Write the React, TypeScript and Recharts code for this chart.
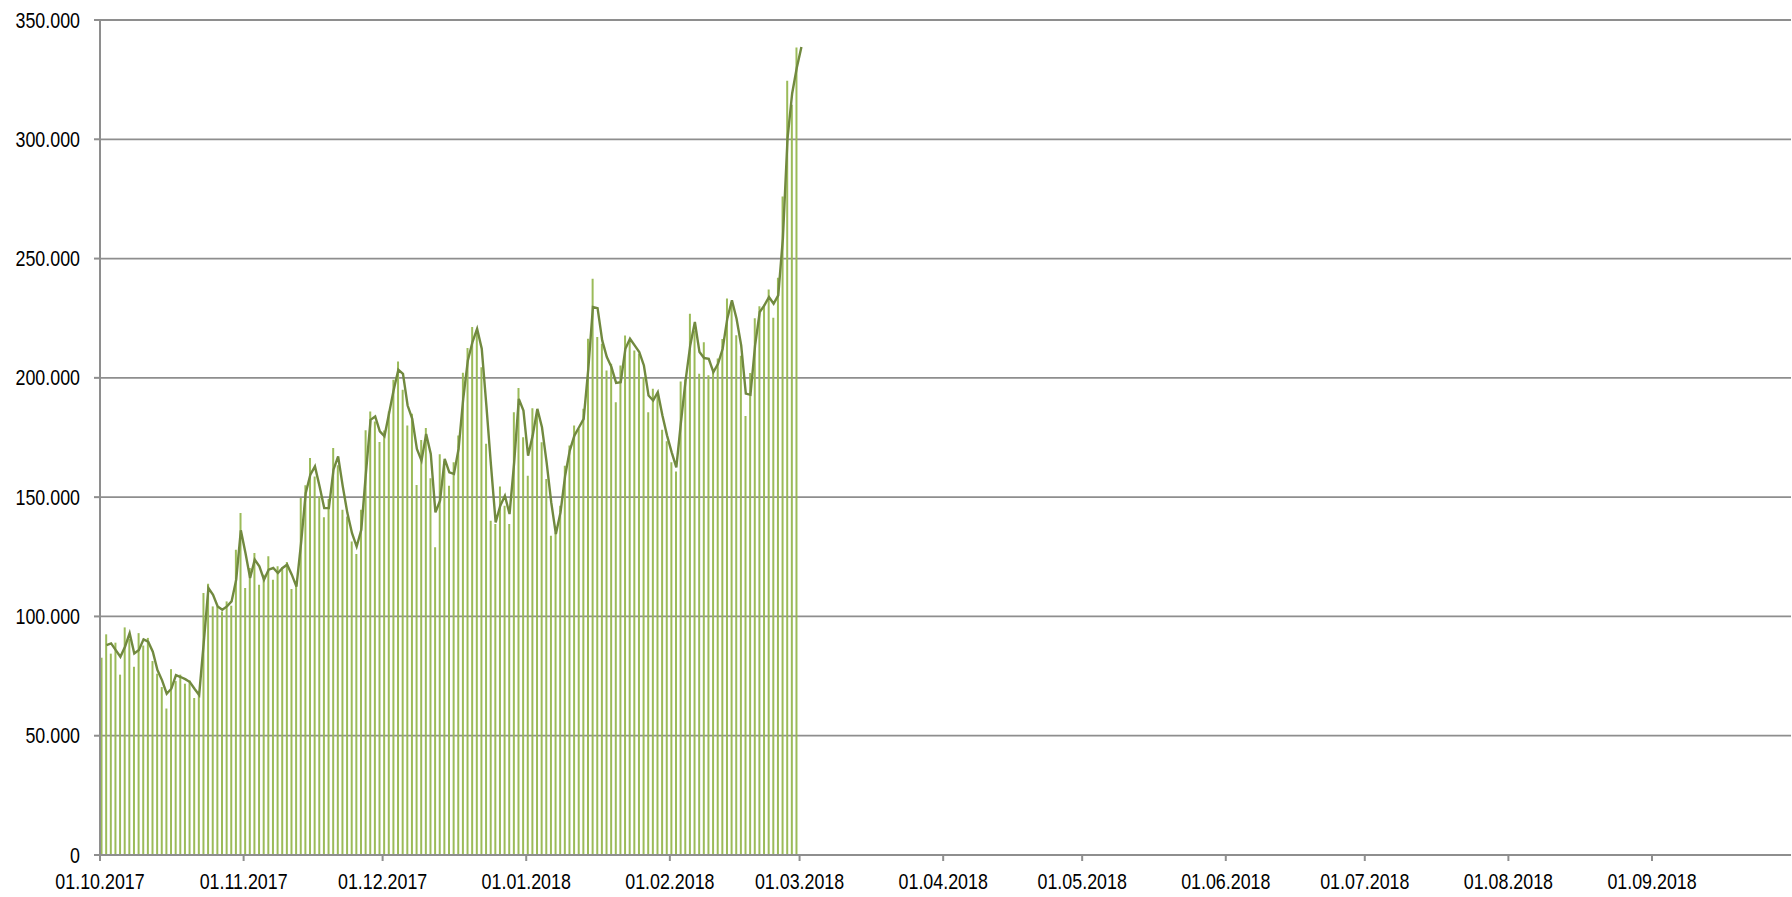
import { ComposedChart, Bar, Line, XAxis, YAxis, CartesianGrid } from "recharts";

// daily values, one per day starting 01.10.2017 (last one 28.02.2018)
const dailyValues = [
  82700, 92500, 84400, 89000, 75600, 95400, 90600, 78900, 93000, 87800,
  91000, 81300, 76000, 70400, 61400, 77900, 72900, 75600, 71800, 73200,
  65800, 68400, 109800, 113700, 104200, 104200, 102100, 106300, 104500, 128000,
  143400, 111900, 120300, 126600, 113300, 117500, 125200, 115400, 121000, 120600,
  122800, 111500, 113500, 149600, 155000, 166400, 158700, 150300, 141600, 149200,
  170600, 163400, 144700, 141900, 131400, 126200, 144700, 178000, 185900, 181700,
  173100, 177900, 185900, 199200, 206900, 195000, 180000, 185000, 155100, 174000,
  179000, 157900, 129000, 168000, 165000, 154800, 164600, 175800, 202100, 212500,
  221300, 220000, 204400, 172400, 140100, 138700, 154500, 146400, 138700, 185600,
  195700, 175100, 159000, 187300, 186700, 173000, 157600, 133800, 135200, 146400,
  163200, 171600, 180000, 178600, 187000, 216400, 241500, 217100, 214300, 203100,
  205900, 189800, 205200, 217800, 215000, 211500, 210100, 200300, 185600, 195400,
  192600, 178200, 173400, 164600, 160700, 198500, 199300, 226900, 219900, 201700,
  214900, 201100, 203700, 208100, 216300, 233300, 231700, 217900, 209300, 184000,
  202000, 225000, 230000, 230800, 237000, 225200, 242000, 276000, 324500, 314500,
  338500,
];

// smoothed line, one per day starting 02.10.2017 (last one 01.03.2018)
const trendValues = [
  88000, 88700, 85900, 83100, 87300, 93000, 84500, 85900, 90400, 89400,
  85200, 77500, 73200, 67600, 69700, 75400, 74600, 73700, 72500, 69700,
  67100, 89100, 111900, 109100, 104200, 102800, 104200, 106300, 115400, 136100,
  126600, 116100, 123800, 121000, 115400, 119600, 120300, 118200, 120300, 121700,
  117500, 112500, 130700, 151700, 159400, 162900, 154500, 145400, 145400, 161500,
  167100, 154500, 143300, 134900, 129300, 136300, 160100, 182400, 183800, 177600,
  175500, 185200, 195000, 203400, 201700, 188400, 182800, 170200, 165300, 176500,
  168100, 143600, 148500, 166000, 160400, 159700, 170200, 191200, 207300, 215000,
  220600, 212200, 188400, 163200, 139400, 146400, 150600, 142900, 164600, 191200,
  186300, 167400, 175800, 187000, 179300, 164600, 147800, 134500, 143600, 159000,
  169500, 175800, 179300, 182800, 203800, 229700, 229200, 215700, 208700, 204500,
  197900, 198200, 212200, 216400, 213600, 210800, 205200, 192600, 190500, 194000,
  184200, 175800, 168800, 162500, 181400, 198900, 213600, 223400, 210800, 208300,
  208000, 202400, 205900, 212200, 224800, 232500, 224800, 213600, 193400, 192900,
  213600, 227600, 230400, 233900, 231100, 234600, 258400, 300300, 319200, 330000,
  338700,
];

// days since 01.10.2017 for the month ticks
const tickDays = [0, 31, 61, 92, 123, 151, 182, 212, 243, 273, 304, 335];
const tickLabels = [
  "01.10.2017", "01.11.2017", "01.12.2017", "01.01.2018", "01.02.2018", "01.03.2018",
  "01.04.2018", "01.05.2018", "01.06.2018", "01.07.2018", "01.08.2018", "01.09.2018",
];
const yTicks = [0, 50000, 100000, 150000, 200000, 250000, 300000, 350000];

const data = Array.from({ length: trendValues.length + 1 }, (_, d) => ({
  day: d + 0.4,
  value: dailyValues[d],
  trend: d > 0 ? trendValues[d - 1] : undefined,
}));

const font = "'Liberation Sans', Arial, sans-serif";
const gray = "#8e8e8e";

const fmtY = (v: number) => String(v).replace(/\B(?=(\d{3})+(?!\d))/g, ".");
const fmtX = (v: number) => tickLabels[tickDays.indexOf(v)] ?? "";

// narrow look like the original (Arial Narrow-ish)
const XTick = ({ x, y, payload }: any) => (
  <g transform={`translate(${x},${y})`}>
    <text transform="scale(0.83,1)" textAnchor="middle" dy="0.71em" fill="#000" fontSize={21.5} fontFamily={font}>
      {fmtX(payload.value)}
    </text>
  </g>
);

const YTick = ({ x, y, payload }: any) => (
  <g transform={`translate(${x},${y})`}>
    <text transform="scale(0.83,1)" textAnchor="end" dy="0.355em" fill="#000" fontSize={21.5} fontFamily={font}>
      {fmtY(payload.value)}
    </text>
  </g>
);

export default function App() {
  return (
    <div style={{ position: "absolute", left: 0, top: 0, width: 1792, height: 897, background: "#fff" }}>
      <ComposedChart
        width={1792}
        height={897}
        data={data}
        margin={{ top: 20, right: 1, bottom: 0, left: 0 }}
      >
        <CartesianGrid vertical={false} stroke={gray} strokeWidth={1.8} />
        <XAxis
          dataKey="day"
          type="number"
          domain={[0, 365]}
          ticks={tickDays}
          interval={0}
          height={42}
          tickSize={6}
          tickMargin={13}
          axisLine={{ stroke: gray, strokeWidth: 2 }}
          tickLine={{ stroke: gray, strokeWidth: 2 }}
          tick={<XTick />}
        />
        <YAxis
          type="number"
          domain={[0, 350000]}
          ticks={yTicks}
          interval={0}
          width={100}
          tickSize={6}
          tickMargin={14}
          axisLine={{ stroke: gray, strokeWidth: 2 }}
          tickLine={{ stroke: gray, strokeWidth: 2 }}
          tick={<YTick />}
        />
        <Bar dataKey="value" fill="#9bbb59" barSize={2} isAnimationActive={false} />
        <Line
          dataKey="trend"
          type="linear"
          stroke="#71893f"
          strokeWidth={2.4}
          dot={false}
          activeDot={false}
          isAnimationActive={false}
        />
      </ComposedChart>
    </div>
  );
}
